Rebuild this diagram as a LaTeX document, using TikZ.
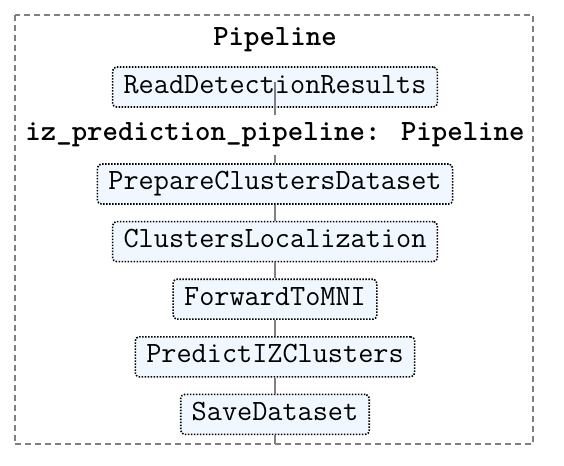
\documentclass[tikz,border=0pt]{standalone}
\usepackage{fontspec}
\usetikzlibrary{positioning}

\definecolor{stepfill}{RGB}{240,247,254}
\definecolor{framegray}{RGB}{128,128,128}

\begin{document}
\begin{tikzpicture}[x=1pt, y=1pt, node distance=8pt]
    \tikzset{
      my step box/.style={
        draw, line width=0.8pt, dash pattern=on 0.75pt off 0.75pt,
        rounded corners=2pt, fill=stepfill,
        font=\ttfamily\fontsize{14.7}{16}\selectfont,
        minimum height=20pt, inner xsep=5.5pt, anchor=center,
        text height=7.5pt, text depth=1.5pt
      },
      my title/.style={
        font=\ttfamily\bfseries\fontsize{14.7}{16}\selectfont,
        minimum height=20pt, inner sep=0pt, fill=white
      },
      my link/.style={draw=framegray, line width=0.8pt},
    }
    \useasboundingbox (0,0) rectangle (282,-233);
    % Outer cluster
    \draw[framegray, line width=1pt, dash pattern=on 3pt off 2pt]
      (7.3,-7.3) rectangle (266.5,-222);
    \coordinate (framebottom) at (137.5,-222);

    % Steps
    \node (pipetitle) [my title] at (137.5,-20) {Pipeline};
    \node (readdet) [my step box] at (137.5,-43.5) {ReadDetectionResults};
    \node (iztitle) [my title] at (137.5,-67.5) {iz\_prediction\_pipeline: Pipeline};
    \node (prepclust) [my step box] at (137.5,-92) {PrepareClustersDataset};
    \node (clustloc) [my step box, below=of prepclust] {ClustersLocalization};
    \node (fwdmni) [my step box, below=of clustloc] {ForwardToMNI};
    \node (prediz) [my step box, below=of fwdmni] {PredictIZClusters};
    \node (savedata) [my step box, below=of prediz] {SaveDataset};

    % Links
    \draw[my link] ([yshift=2.5pt]readdet.center) -- (iztitle);
    \draw[my link] (iztitle) -- (prepclust);
    \foreach \a/\b in {prepclust/clustloc, clustloc/fwdmni, fwdmni/prediz, prediz/savedata} {
      \draw[my link] (\a) -- (\b);
    }
    \draw[my link] (savedata) -- (framebottom);
\end{tikzpicture}
\end{document}
